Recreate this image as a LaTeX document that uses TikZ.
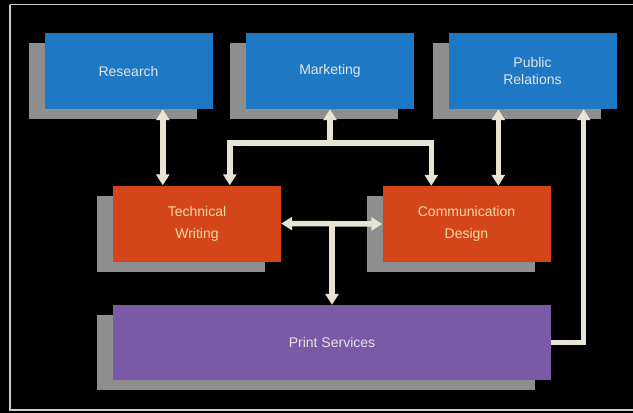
\documentclass[tikz,border=0pt]{standalone}
\usepackage{fontspec}
\setmainfont{Liberation Sans}
\usetikzlibrary{arrows.meta,shadows}
\definecolor{blu}{HTML}{1E78C4}
\definecolor{arancio}{HTML}{D4461A}
\definecolor{viola}{HTML}{7A5AA6}
\definecolor{ombra}{HTML}{8E8E8E}
\definecolor{crema}{HTML}{E8E4D4}
\definecolor{testoblu}{HTML}{E4E4E0}
\definecolor{testoarancio}{HTML}{F2D8A0}
\tikzset{
	box/.style={minimum width=168pt, minimum height=76pt, inner sep=0pt, align=center,
		font=\fontsize{14}{17}\selectfont,
		drop shadow={shadow xshift=-16pt, shadow yshift=-10pt, fill=ombra, opacity=1}},
	reparto/.style={box, fill=blu, text=testoblu},
	gruppo/.style={box, fill=arancio, text=testoarancio},
	servizio/.style={box, fill=viola, text=testoblu},
	punta/.tip={Triangle[width=13pt, length=11pt, fill=crema]},
	freccia/.style={draw=crema, line width=5.5pt, -punta},
	doppia/.style={draw=crema, line width=5.5pt, punta-punta}
}
\begin{document}
\begin{tikzpicture}[x=1pt, y=-1pt]
		% sfondo e cornice
		\fill[black] (0, 0) rectangle (633, 413);
		\useasboundingbox (0, 0) rectangle (633, 413);
		\draw[color=black!20, line width=1.5pt] (10, 4.5) -- (640, 4.5);
		\draw[color=black!20, line width=1.5pt] (10, 4.5) -- (10, 410) -- (640, 410);
		% riga superiore
		\node[reparto] (research) at (128.5, 71) {Research};
		\node[reparto] (marketing) at (330, 71) {Marketing};
		\node[reparto] (pr) at (532.5, 71) {Public\\Relations};
		% riga centrale
		\node[gruppo] (tw) at (197, 223.5) {Technical\\[5pt]Writing};
		\node[gruppo] (cd) at (466.5, 224) {Communication\\[5pt]Design};
		% stampa
		\node[servizio, minimum width=438pt, minimum height=75pt] (ps) at (332, 342.5) {Print Services};
		% collegamenti
		\coordinate (a1) at ([xshift=50pt]tw.north west);
		\draw[doppia] (a1) -- (a1 |- research.south);
		\coordinate (mt) at ([yshift=-34pt]marketing.south);
		\coordinate (t1) at ([xshift=117pt]tw.north west);
		\coordinate (t2) at ([xshift=49pt]cd.north west);
		\draw[freccia] (mt) -- (marketing.south);
		\draw[freccia] (mt) -| (t1);
		\draw[freccia] (mt) -| (t2);
		\coordinate (a3) at ([xshift=116pt]cd.north west);
		\draw[doppia] (a3) -- (a3 |- pr.south);
		\coordinate (a4) at ([xshift=-33pt]pr.south east);
		\draw[freccia] (ps.east) -| (a4);
		\draw[doppia] (tw.east) -- (cd.west);
		\draw[freccia] (tw.east -| ps.north) -- (ps.north);
	\end{tikzpicture}
\end{document}
